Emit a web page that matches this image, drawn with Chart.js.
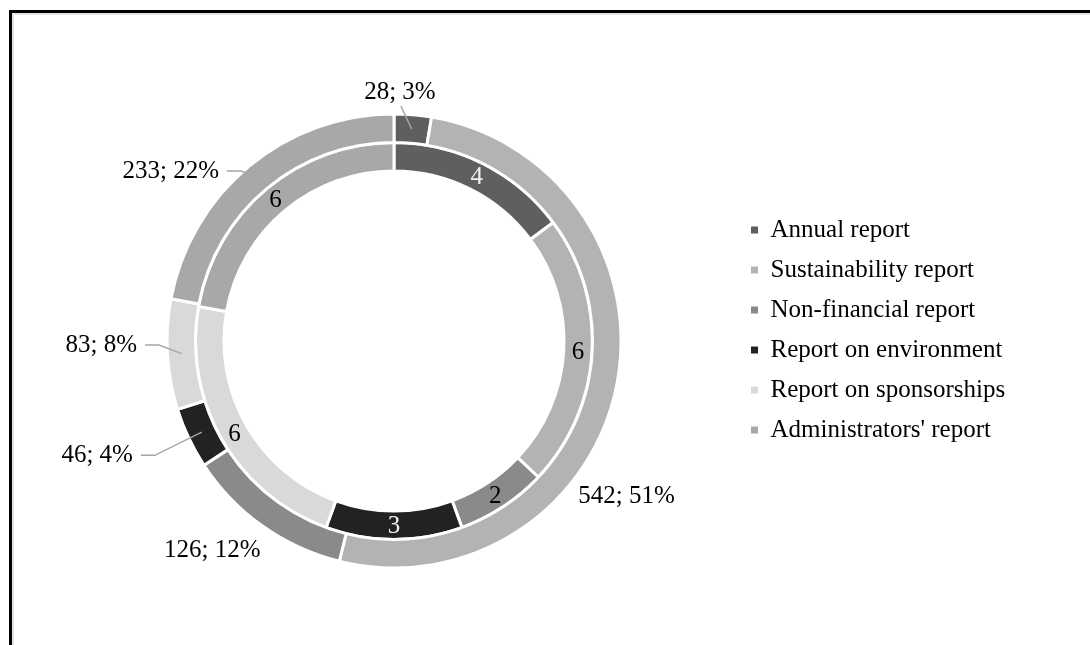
<!DOCTYPE html>
<html>
<head>
<meta charset="utf-8">
<script src="https://cdn.jsdelivr.net/npm/chart.js@4.4.1/dist/chart.umd.min.js"></script>
<style>
    html, body { margin: 0; padding: 0; background: #ffffff; }
    #wrap { position: relative; width: 1090px; height: 645px; overflow: hidden; }
    #frame {
        position: absolute; left: 9px; top: 10px; width: 1100px; height: 660px;
        border-top: 3px solid #000; border-left: 3px solid #000;
        box-shadow: inset 2px 2px 0 #e4e4e4;
    }
    #chart { position: absolute; left: 0; top: 0; }
</style>
</head>
<body>
<div id="wrap">
    <div id="frame"></div>
    <canvas id="chart" width="1090" height="645"></canvas>
</div>
<script>
// report types and the two rings (outer = number of reports, inner = number of companies)
var categories = ['Annual report', 'Sustainability report', 'Non-financial report',
                  'Report on environment', 'Report on sponsorships', "Administrators' report"];
var reportCounts = [28, 542, 126, 46, 83, 233];
var companyCounts = [4, 6, 2, 3, 6, 6];
var sliceColors = ['#5f5f5f', '#b3b3b3', '#8a8a8a', '#222222', '#d9d9d9', '#a8a8a8'];
var innerTextColors = ['#f0f0f0', '#000', '#000', '#f0f0f0', '#000', '#000'];

// where each outer label sits, relative to the middle of its slice
var outerPlacement = [
    { shift: -3.4, dist: 249, align: 'center', leader: 'up' },
    { shift: 22.1, dist: 280, align: 'center', leader: null },
    { shift: 5.6, dist: 277, align: 'center', leader: null },
    { shift: 1.7, dist: 285, align: 'right', leader: 'side' },
    { shift: 2.5, dist: 257, align: 'right', leader: 'side' },
    { shift: -6.2, dist: 244, align: 'right', leader: 'side' }
];

var labelFont = '25px "Liberation Serif", "Times New Roman", serif';
var legendLeft = 736;

const ringLabels = {
    id: 'ringLabels',
    afterDatasetsDraw(chart) {
        const ctx = chart.ctx;
        const outer = chart.getDatasetMeta(0).data;
        const inner = chart.getDatasetMeta(1).data;
        const total = reportCounts.reduce((a, b) => a + b, 0);
        ctx.save();
        ctx.font = labelFont;
        ctx.textBaseline = 'middle';

        // inner ring: value inside the slice
        inner.forEach(function (arc, i) {
            const p = arc.getProps(['x', 'y', 'startAngle', 'endAngle', 'innerRadius', 'outerRadius'], true);
            const mid = (p.startAngle + p.endAngle) / 2;
            const r = (p.innerRadius + p.outerRadius) / 2;
            ctx.fillStyle = innerTextColors[i];
            ctx.textAlign = 'center';
            ctx.fillText(String(companyCounts[i]), p.x + Math.cos(mid) * r, p.y + Math.sin(mid) * r + 1);
        });

        // outer ring: "value; percent" outside, some with leader lines
        outer.forEach(function (arc, i) {
            const p = arc.getProps(['x', 'y', 'startAngle', 'endAngle', 'innerRadius', 'outerRadius'], true);
            const mid = (p.startAngle + p.endAngle) / 2;
            const pl = outerPlacement[i];
            const a = mid + pl.shift * Math.PI / 180;
            const tx = p.x + Math.cos(a) * pl.dist;
            const ty = p.y + Math.sin(a) * pl.dist;
            const text = reportCounts[i] + '; ' + Math.round(reportCounts[i] / total * 100) + '%';
            const rm = (p.innerRadius + p.outerRadius) / 2;
            const ax = p.x + Math.cos(mid) * rm;
            const ay = p.y + Math.sin(mid) * rm;

            ctx.strokeStyle = '#a6a6a6';
            ctx.lineWidth = 1.5;
            if (pl.leader == 'side') {
                ctx.beginPath();
                ctx.moveTo(tx + 8, ty);
                ctx.lineTo(tx + 22, ty);
                ctx.lineTo(ax, ay);
                ctx.stroke();
            } else if (pl.leader == 'up') {
                ctx.beginPath();
                ctx.moveTo(tx + 1, ty + 14);
                ctx.lineTo(ax, ay);
                ctx.stroke();
            }
            ctx.fillStyle = '#000';
            ctx.textAlign = pl.align;
            ctx.fillText(text, tx, ty);
        });
        ctx.restore();
    }
};

const ctx_chart = document.getElementById('chart').getContext('2d');
var ringChart = new Chart(ctx_chart, {
    type: 'doughnut',
    data: {
        labels: categories,
        datasets: [{
            label: 'Reports',
            data: reportCounts,
            backgroundColor: sliceColors,
            borderColor: '#ffffff',
            borderWidth: 3
        }, {
            label: 'Companies',
            data: companyCounts,
            backgroundColor: sliceColors,
            borderColor: '#ffffff',
            borderWidth: 3
        }]
    },
    options: {
        responsive: false,
        animation: false,
        radius: 227,
        cutout: '74.9%',
        layout: {
            padding: { left: 52, right: 80, top: 37, bottom: 0 }
        },
        plugins: {
            tooltip: { enabled: false },
            legend: {
                position: 'right',
                align: 'start',
                title: {
                    display: true,
                    text: ' ',
                    font: { size: 10 },
                    padding: { top: 153.5, bottom: 0 }
                },
                labels: {
                    boxWidth: 7,
                    boxHeight: 7,
                    padding: 15,
                    color: '#000',
                    font: { family: '"Liberation Serif", "Times New Roman", serif', size: 25 },
                    generateLabels: function (chart) {
                        return categories.map(function (name, i) {
                            return {
                                text: name,
                                fillStyle: sliceColors[i],
                                strokeStyle: sliceColors[i],
                                lineWidth: 0,
                                fontColor: '#000',
                                hidden: false,
                                index: i
                            };
                        });
                    }
                }
            }
        }
    },
    plugins: [ringLabels]
});

// move the legend so it starts where the reference has it (chart area ends there)
var diff = ringChart.legend.left - legendLeft;
if (Math.abs(diff) > 0.5) {
    ringChart.options.layout.padding.right += diff;
    ringChart.update();
}
</script>
</body>
</html>
